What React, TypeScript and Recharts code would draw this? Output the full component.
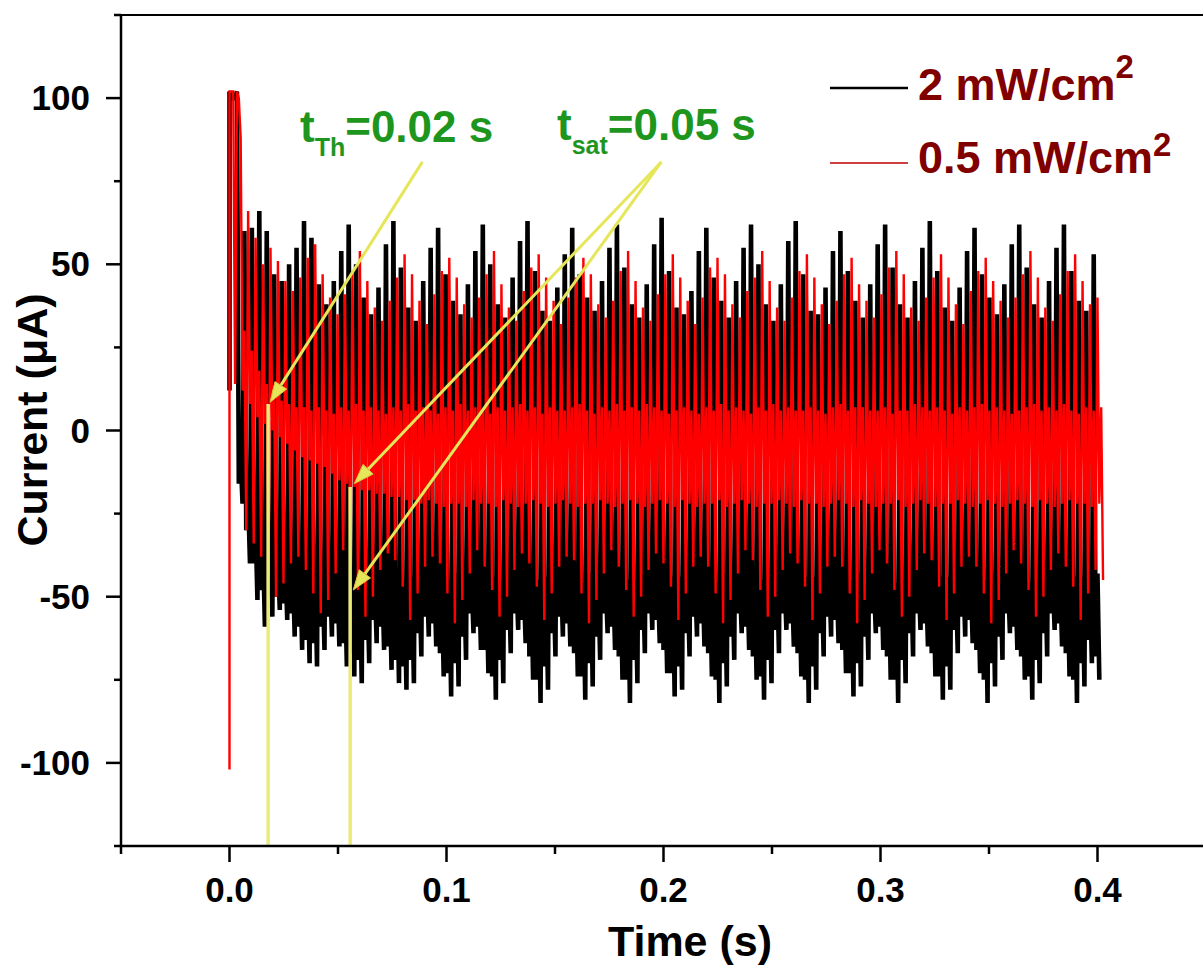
import React from "react";
import { LineChart, Line, XAxis, YAxis, ReferenceLine } from "recharts";

// one ripple cycle; six of them make one 0.0206 s envelope period
const CYCLE = 0.0206 / 6;

// 2 mW/cm2 trace, one value per ripple cycle (peak -> band bottom -> band top -> trough)
const blackPeak = [
  102, 102, 60, 61, 66, 60,
  47, 45, 50, 55, 63, 58,
  44, 38, 45, 54, 62, 50,
  40, 35, 43, 56, 63, 49,
  37, 33, 45, 55, 61, 47,
  39, 35, 44, 54, 62, 50,
  38, 34, 46, 57, 63, 48,
  36, 33, 43, 53, 61, 47,
  40, 36, 45, 55, 62, 49,
  38, 34, 44, 56, 64, 48,
  37, 35, 42, 54, 61, 46,
  39, 34, 45, 55, 62, 50,
  38, 33, 44, 57, 63, 47,
  36, 35, 43, 54, 60, 48,
  39, 34, 44, 56, 62, 49,
  38, 34, 45, 55, 63, 48,
  37, 33, 43, 54, 61, 47,
  40, 35, 44, 56, 62, 49,
  38, 34, 45, 55, 62, 48,
  39, 36, 53,
];
const blackBandLo = [
  100, -16, -30, -40, -48, -50,
  -50, -52, -55, -59, -63, -64,
  -59, -56, -58, -64, -67, -69,
  -63, -57, -59, -65, -69, -71,
  -69, -61, -56, -58, -67, -73,
  -70, -62, -55, -59, -66, -74,
  -69, -60, -55, -57, -68, -75,
  -71, -61, -56, -58, -67, -74,
  -70, -62, -55, -59, -68, -75,
  -69, -60, -55, -57, -66, -73,
  -71, -61, -56, -58, -67, -75,
  -70, -62, -55, -59, -68, -74,
  -69, -60, -55, -58, -67, -75,
  -71, -61, -56, -57, -66, -73,
  -70, -62, -55, -59, -68, -75,
  -69, -61, -55, -58, -67, -74,
  -71, -60, -56, -57, -66, -75,
  -70, -62, -55, -59, -68, -74,
  -69, -61, -55, -58, -67, -75,
  -70, -63, -68,
];
const blackBandHi = [
  100, -8, -20, -28, -34, -36,
  -38, -39, -40, -41, -42, -43,
  -44, -43, -45, -44, -46, -44,
  -45, -44, -43, -45, -44, -46,
  -44, -45, -43, -44, -46, -45,
  -43, -44, -45, -44, -45, -44,
  -45, -43, -44, -46, -44, -45,
  -44, -45, -43, -44, -45, -46,
  -43, -44, -45, -43, -44, -45,
  -45, -44, -43, -45, -46, -44,
  -44, -45, -44, -43, -45, -46,
  -43, -44, -45, -44, -44, -45,
  -45, -43, -44, -46, -45, -44,
  -44, -45, -43, -44, -46, -45,
  -43, -44, -45, -43, -44, -46,
  -45, -44, -44, -45, -45, -44,
  -44, -45, -43, -44, -46, -45,
  -43, -44, -45, -45, -44, -46,
  -45, -43, -44, -44, -45, -44,
  -44, -45, -43,
];
const blackTrough = [
  100, -22, -40, -51, -59, -56,
  -54, -57, -62, -66, -70, -71,
  -66, -62, -65, -71, -74, -76,
  -70, -64, -66, -72, -76, -78,
  -76, -68, -62, -65, -74, -80,
  -77, -69, -61, -66, -73, -81,
  -76, -67, -60, -64, -75, -82,
  -78, -68, -62, -65, -74, -81,
  -77, -69, -61, -66, -75, -82,
  -76, -67, -60, -64, -73, -80,
  -78, -68, -62, -65, -74, -82,
  -77, -69, -61, -66, -75, -81,
  -76, -67, -60, -65, -74, -82,
  -78, -68, -62, -64, -73, -80,
  -77, -69, -61, -66, -75, -82,
  -76, -68, -60, -65, -74, -81,
  -78, -67, -62, -64, -73, -82,
  -77, -69, -61, -66, -75, -81,
  -76, -68, -60, -65, -74, -82,
  -77, -70, -75,
];

// 0.5 mW/cm2 trace, its ripple sits half a cycle after the black one
const redPeak = [
  102, 88, 66, 58, 50, 55,
  51, 45, 42, 46, 52, 56,
  47, 40, 35, 41, 48, 54,
  45, 37, 33, 39, 46, 53,
  47, 39, 32, 41, 48, 52,
  46, 38, 34, 40, 47, 54,
  44, 37, 33, 42, 49, 53,
  46, 39, 32, 40, 46, 52,
  47, 38, 34, 39, 48, 54,
  45, 37, 33, 41, 47, 53,
  46, 39, 32, 40, 49, 52,
  47, 38, 34, 42, 46, 54,
  45, 37, 33, 40, 48, 53,
  46, 38, 32, 39, 47, 52,
  44, 39, 34, 41, 49, 54,
  47, 37, 33, 40, 46, 53,
  46, 38, 32, 42, 48, 52,
  45, 39, 34, 40, 47, 54,
  46, 37, 33, 41, 48, 53,
  45, 38, 40,
];
const redBandLo = [
  14, 12, 8, 4, 2, 0,
  -2, -4, -6, -8, -9, -10,
  -11, -13, -15, -16, -17, -18,
  -18, -19, -19, -20, -20, -21,
  -21, -22, -21, -22, -23, -22,
  -22, -23, -21, -22, -22, -23,
  -21, -22, -23, -22, -21, -22,
  -23, -22, -21, -22, -23, -22,
  -22, -21, -22, -23, -22, -21,
  -22, -23, -22, -21, -22, -23,
  -21, -22, -23, -22, -22, -21,
  -23, -22, -21, -22, -23, -22,
  -22, -21, -22, -23, -21, -22,
  -22, -23, -22, -21, -22, -23,
  -21, -22, -23, -22, -22, -21,
  -23, -22, -21, -22, -23, -22,
  -22, -21, -22, -23, -22, -21,
  -22, -23, -22, -21, -22, -23,
  -21, -22, -23, -22, -21, -22,
  -22, -23, -22,
];
const redBandHi = [
  102, 30, 24, 18, 14, 11,
  9, 8, 7, 7, 6, 7,
  6, 5, 7, 6, 8, 6,
  7, 6, 5, 7, 6, 8,
  6, 7, 6, 5, 7, 6,
  8, 6, 7, 6, 5, 7,
  6, 7, 8, 6, 7, 5,
  7, 6, 6, 7, 8, 6,
  5, 7, 6, 8, 6, 7,
  6, 8, 7, 6, 5, 6,
  7, 6, 5, 7, 6, 8,
  6, 7, 6, 5, 7, 6,
  8, 6, 7, 6, 6, 7,
  6, 5, 7, 8, 6, 7,
  7, 6, 6, 7, 5, 6,
  6, 8, 7, 6, 7, 6,
  5, 7, 6, 7, 8, 6,
  7, 6, 5, 6, 7, 8,
  6, 7, 6, 8, 6, 5,
  7, 6, 7,
];
const redTrough = [
  100, -30, -34, -38, -44, -50,
  -46, -40, -38, -42, -49, -55,
  -51, -43, -36, -41, -48, -56,
  -50, -42, -37, -39, -47, -57,
  -49, -41, -38, -40, -49, -58,
  -51, -43, -36, -41, -48, -56,
  -50, -42, -37, -40, -47, -57,
  -49, -41, -38, -39, -49, -58,
  -51, -43, -36, -41, -48, -56,
  -50, -42, -37, -40, -47, -57,
  -49, -41, -38, -41, -49, -58,
  -51, -43, -36, -39, -48, -56,
  -50, -42, -37, -40, -47, -57,
  -49, -41, -38, -41, -49, -58,
  -51, -43, -36, -40, -48, -56,
  -50, -42, -37, -39, -47, -57,
  -49, -41, -38, -41, -49, -58,
  -51, -43, -36, -40, -48, -56,
  -50, -42, -37, -41, -47, -57,
  -49, -42, -45,
];

// values at switch-on (t = 0) before the ripple starts
const blackStart = [12];
const redStart = [-102, 102];

const xTicks = [-0.05, 0, 0.05, 0.1, 0.15, 0.2, 0.25, 0.3, 0.35, 0.4, 0.45];
const xMajor = [0, 0.1, 0.2, 0.3, 0.4];
const yTicks = [-125, -100, -75, -50, -25, 0, 25, 50, 75, 100, 125];
const yMajor = [-100, -50, 0, 50, 100];

const FONT = "Arial, 'Liberation Sans', Helvetica, sans-serif";
const GREEN = "#1e961e";
const YELLOW = "#e6e65a";
const LEGEND_TEXT = "#800000";

type Pt = { t: number; v: number };

function buildTrace(
  start: number[],
  shift: number,
  peak: number[],
  lo: number[],
  hi: number[],
  trough: number[]
): Pt[] {
  const pts: Pt[] = start.map((v) => ({ t: 0, v }));
  peak.forEach((p, k) => {
    const t0 = (k + shift) * CYCLE;
    pts.push({ t: t0, v: p });
    pts.push({ t: t0 + CYCLE * 0.25, v: lo[k] });
    pts.push({ t: t0 + CYCLE * 0.5, v: hi[k] });
    pts.push({ t: t0 + CYCLE * 0.75, v: trough[k] });
  });
  return pts;
}

const blackData = buildTrace(blackStart, 0, blackPeak, blackBandLo, blackBandHi, blackTrough);
const redData = buildTrace(redStart, 0.5, redPeak, redBandLo, redBandHi, redTrough);

const renderXTick = (props: any) => {
  const { x, y, payload } = props;
  const major = xMajor.includes(payload.value);
  return (
    <g>
      <line x1={x} y1={y} x2={x} y2={y + (major ? 16 : 8)} stroke="#000" strokeWidth={2.5} />
      {major && (
        <text x={x} y={y + 56} textAnchor="middle" fontSize={35} fontWeight="bold" fontFamily={FONT} fill="#000">
          {payload.value.toFixed(1)}
        </text>
      )}
    </g>
  );
};

const renderYTick = (props: any) => {
  const { x, y, payload } = props;
  const major = yMajor.includes(payload.value);
  return (
    <g>
      <line x1={x - (major ? 15 : 7)} y1={y} x2={x} y2={y} stroke="#000" strokeWidth={2.5} />
      {major && (
        <text x={x - 31} y={y + 12} textAnchor="end" fontSize={35} fontWeight="bold" fontFamily={FONT} fill="#000">
          {payload.value}
        </text>
      )}
    </g>
  );
};

// yellow pointer, with an arrow head at its second end
const arrowShape = (withHead: boolean) => (p: any) => {
  const { x1, y1, x2, y2 } = p;
  if (!withHead) {
    return <line x1={x1} y1={y1} x2={x2} y2={y2} stroke="#ebeb7a" strokeWidth={3.5} />;
  }
  const a = Math.atan2(y2 - y1, x2 - x1);
  const len = 20;
  const w = 7;
  const bx = x2 - len * Math.cos(a);
  const by = y2 - len * Math.sin(a);
  const nx = -Math.sin(a) * w;
  const ny = Math.cos(a) * w;
  return (
    <g>
      <line x1={x1} y1={y1} x2={bx} y2={by} stroke={YELLOW} strokeWidth={3} />
      <polygon
        points={`${x2},${y2} ${bx + nx},${by + ny} ${bx - nx},${by - ny}`}
        fill={YELLOW}
        stroke="#d9c23c"
        strokeWidth={1}
      />
    </g>
  );
};

export default function App() {
  return (
    <div
      style={{
        position: "absolute",
        left: 0,
        top: 0,
        width: 1203,
        height: 965,
        overflow: "hidden",
        background: "#fff",
      }}
    >
      <LineChart width={1210} height={965} margin={{ top: 15, right: 4, bottom: 0, left: 0 }}>
        <XAxis
          dataKey="t"
          type="number"
          domain={[-0.05, 0.45]}
          allowDataOverflow
          ticks={xTicks}
          interval={0}
          height={119}
          axisLine={{ stroke: "#000", strokeWidth: 2.5 }}
          tickLine={false}
          tickSize={0}
          tickMargin={0}
          tick={renderXTick}
        />
        <YAxis
          type="number"
          domain={[-125, 125]}
          allowDataOverflow
          ticks={yTicks}
          interval={0}
          width={121}
          axisLine={{ stroke: "#000", strokeWidth: 2.5 }}
          tickLine={false}
          tickSize={0}
          tickMargin={0}
          tick={renderYTick}
        />
        <ReferenceLine y={125} stroke="#000" strokeWidth={2} ifOverflow="visible" />
        <Line
          data={blackData}
          dataKey="v"
          type="linear"
          stroke="#000"
          strokeWidth={4.6}
          dot={false}
          activeDot={false}
          isAnimationActive={false}
        />
        <Line
          data={redData}
          dataKey="v"
          type="linear"
          stroke="#ff0000"
          strokeWidth={2.4}
          dot={false}
          activeDot={false}
          isAnimationActive={false}
        />
        <ReferenceLine
          segment={[{ x: 0.0178, y: 8 }, { x: 0.0178, y: -125 }]}
          ifOverflow="visible"
          shape={arrowShape(false)}
        />
        <ReferenceLine
          segment={[{ x: 0.0556, y: -17 }, { x: 0.0556, y: -125 }]}
          ifOverflow="visible"
          shape={arrowShape(false)}
        />
        <ReferenceLine
          segment={[{ x: 0.0889, y: 80.8 }, { x: 0.0187, y: 8.5 }]}
          ifOverflow="visible"
          shape={arrowShape(true)}
        />
        <ReferenceLine
          segment={[{ x: 0.199, y: 80.8 }, { x: 0.0575, y: -16 }]}
          ifOverflow="visible"
          shape={arrowShape(true)}
        />
        <ReferenceLine
          segment={[{ x: 0.199, y: 80.8 }, { x: 0.057, y: -48 }]}
          ifOverflow="visible"
          shape={arrowShape(true)}
        />
      </LineChart>
      <svg
        width={1203}
        height={965}
        style={{ position: "absolute", left: 0, top: 0, pointerEvents: "none" }}
        fontFamily={FONT}
        fontWeight="bold"
      >
        <text x={690} y={956} textAnchor="middle" fontSize={43} fill="#000">
          Time (s)
        </text>
        <text transform="translate(47,420) rotate(-90)" textAnchor="middle" fontSize={43} fill="#000">
          Current (μA)
        </text>

        <line x1={830} y1={88} x2={908} y2={88} stroke="#000" strokeWidth={2.5} />
        <text x={918} y={100} fontSize={45} fill={LEGEND_TEXT}>
          2 mW/cm<tspan fontSize={33} dy={-22}>2</tspan>
        </text>
        <line x1={830} y1={163} x2={908} y2={163} stroke="#c00000" strokeWidth={1.5} />
        <text x={918} y={173} fontSize={45} fill={LEGEND_TEXT}>
          0.5 mW/cm<tspan fontSize={33} dy={-17}>2</tspan>
        </text>

        <text x={300} y={142} fontSize={44} fill={GREEN}>
          t<tspan fontSize={25} dy={14}>Th</tspan>
          <tspan dy={-14}>=0.02 s</tspan>
        </text>
        <text x={557} y={140} fontSize={44} fill={GREEN}>
          t<tspan fontSize={25} dy={14}>sat</tspan>
          <tspan dy={-14}>=0.05 s</tspan>
        </text>
      </svg>
    </div>
  );
}
